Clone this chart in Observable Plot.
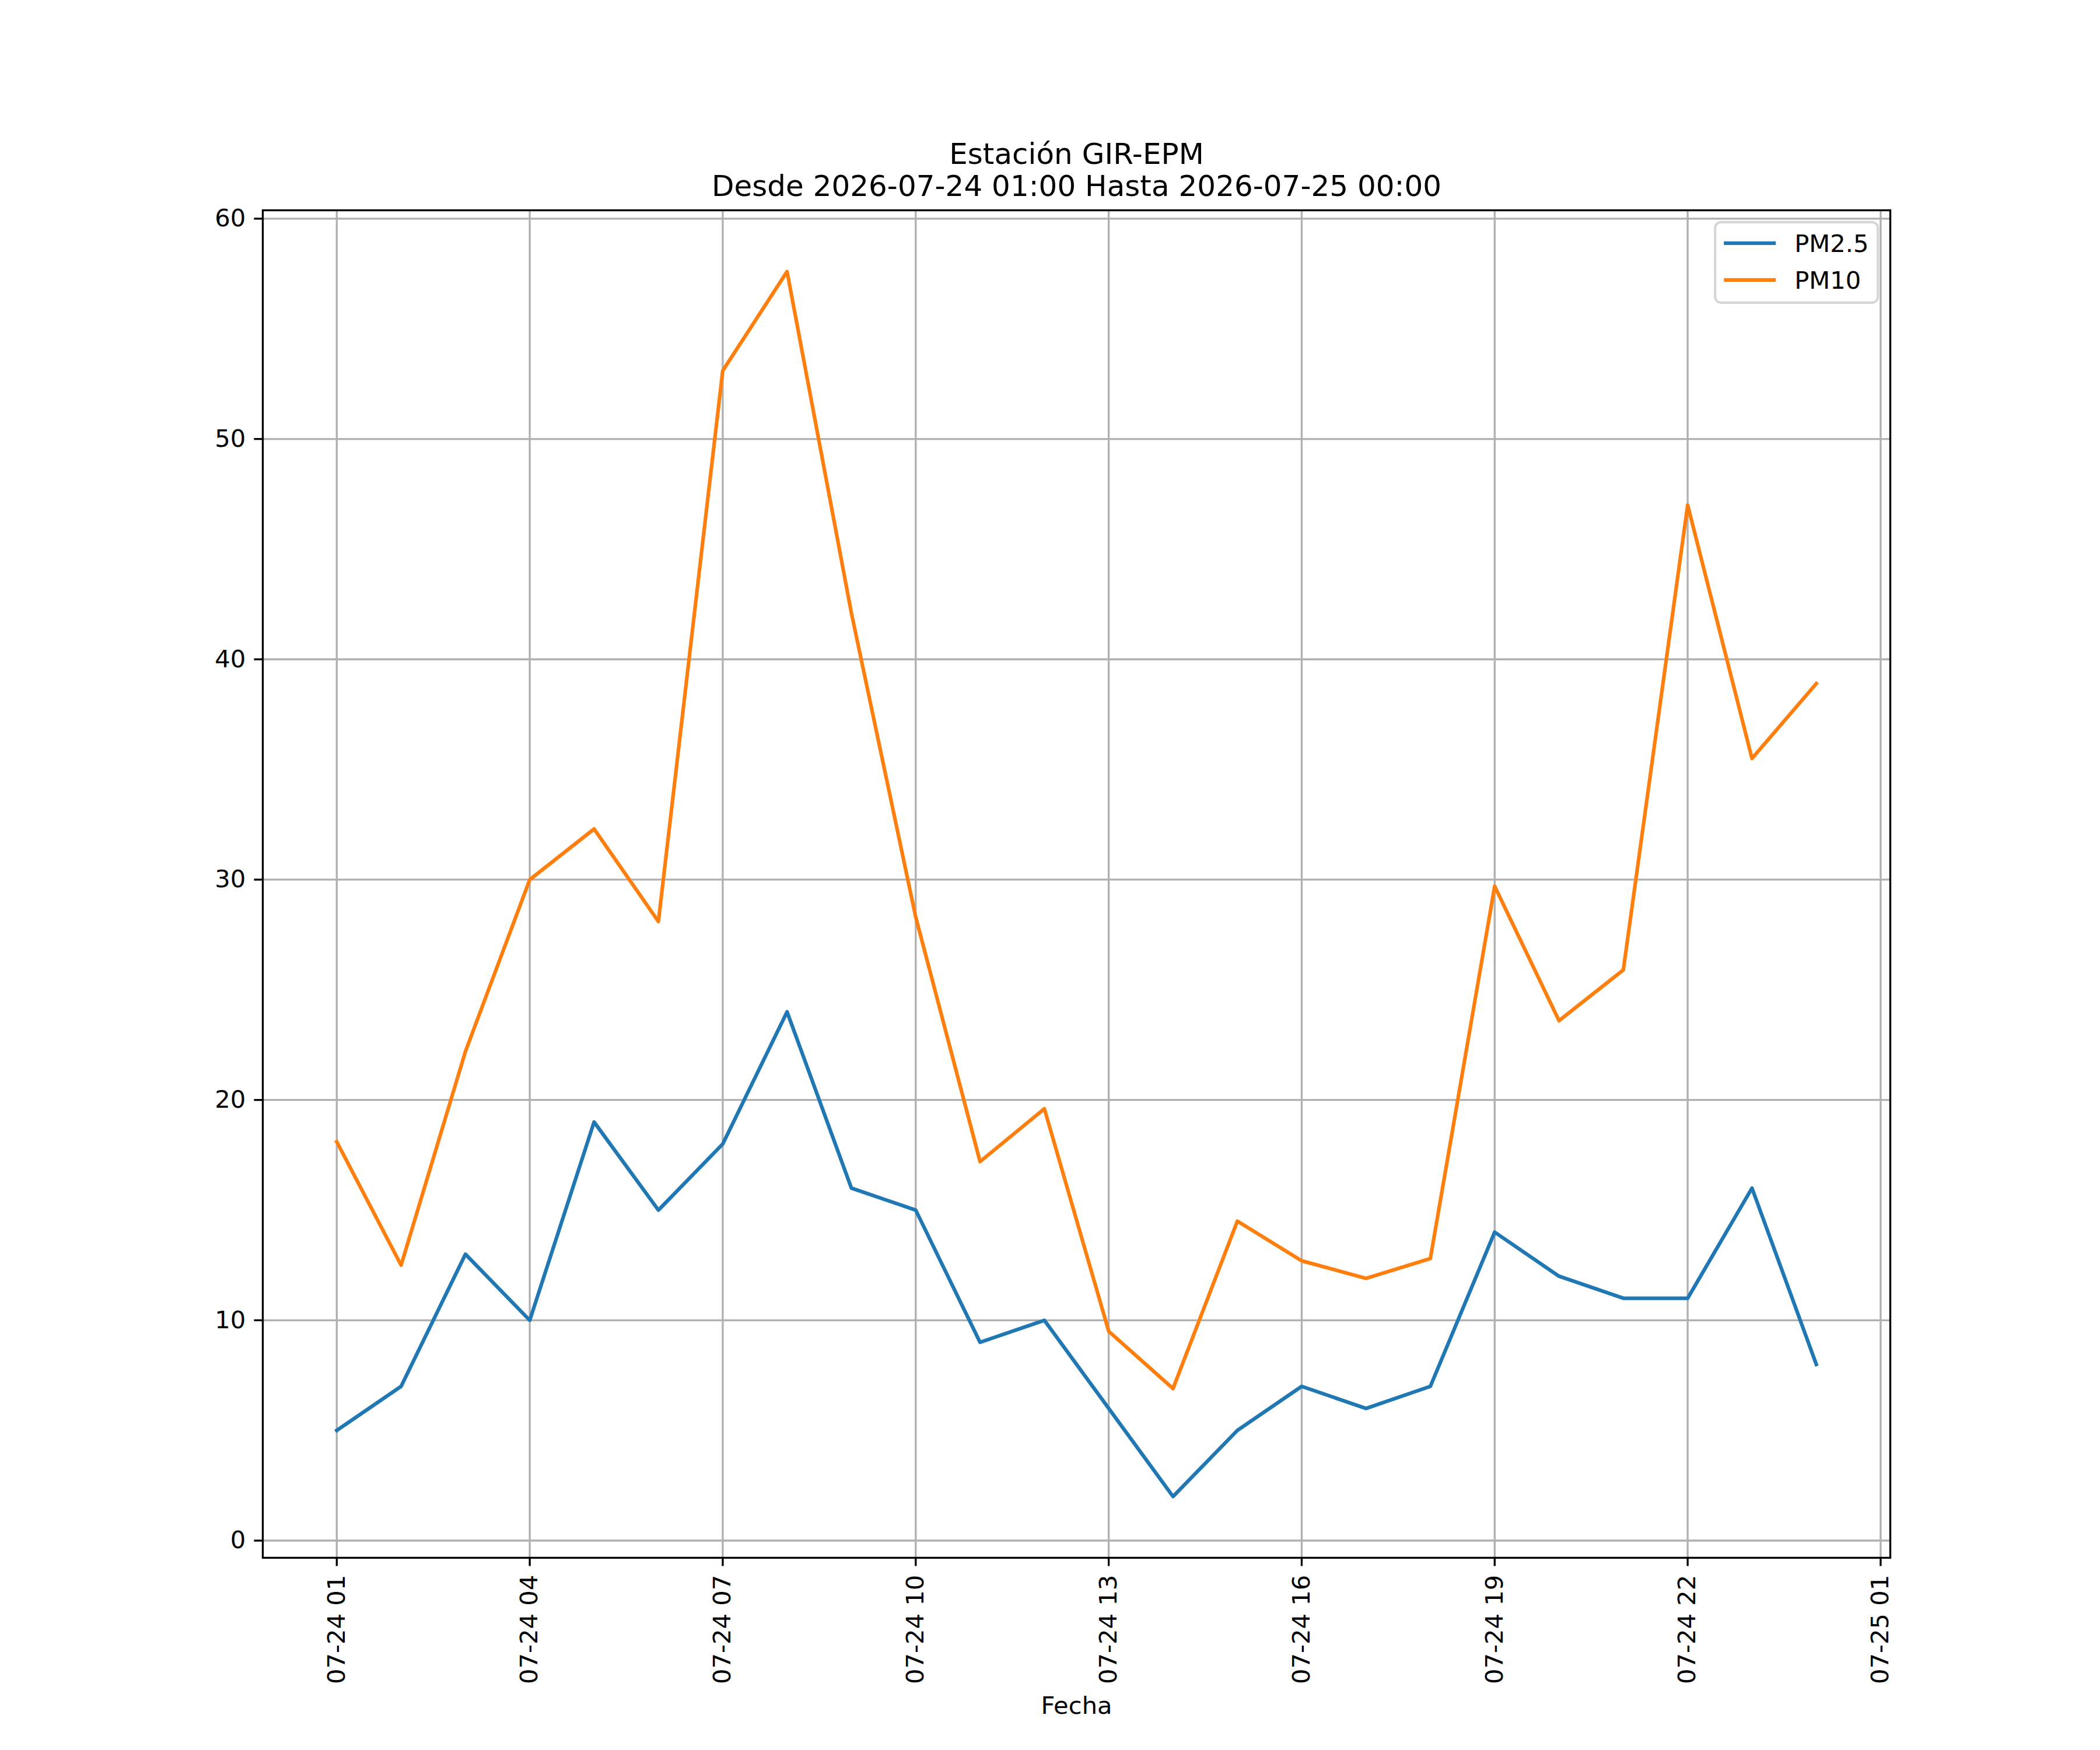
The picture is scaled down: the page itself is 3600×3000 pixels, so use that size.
<!DOCTYPE html>
<html><head><meta charset="utf-8">
<script src="https://cdn.jsdelivr.net/npm/d3@7"></script>
<script src="https://cdn.jsdelivr.net/npm/@observablehq/plot@0.6"></script>
<style>html,body{margin:0;padding:0;background:#fff} svg{display:block}</style>
</head><body><div id="chart"></div>
<script>
// ---- data ----
const hours = [1,2,3,4,5,6,7,8,9,10,11,12,13,14,15,16,17,18,19,20,21,22,23,24]; // hours after 2026-07-24 00:00
const pm25 = [5,7,13,10,19,15,18,24,16,15,9,10,6,2,5,7,6,7,14,12,11,11,16,8];
const pm10 = [18.1,12.5,22.2,30.0,32.3,28.1,53.1,57.6,42.1,28.3,17.2,19.6,9.5,6.9,14.5,12.7,11.9,12.8,29.7,23.6,25.9,47.0,35.5,38.9];
const seriesNames = ["PM2.5","PM10"];
const seriesColors = ["#1f77b4","#ff7f0e"];
const xTickHours = [1,4,7,10,13,16,19,22,25];
const yTicks = [0,10,20,30,40,50,60];
const titleLines = ["Estación GIR-EPM","Desde 2026-07-24 01:00 Hasta 2026-07-25 00:00"];
const xLabel = "Fecha";

// ---- build ----
const toDate = h => new Date(2026, 6, 24, h);
const dates = hours.map(toDate);
const seriesValues = [pm25, pm10];
const rows = seriesNames.map((name, s) => hours.map((h, i) => ({series: name, date: dates[i], value: seriesValues[s][i]})));
const xTicks = xTickHours.map(toDate);

const pt = 300 / 72;
const fs = 10 * pt;
const t0 = +dates[0], t1 = +dates[dates.length - 1];
const xDomain = [new Date(t0 - 0.05 * (t1 - t0)), new Date(t1 + 0.05 * (t1 - t0))];
const allV = pm25.concat(pm10);
const vmin = d3.min(allV), vmax = d3.max(allV);
const yDomain = [vmin - 0.05 * (vmax - vmin), vmax + 0.05 * (vmax - vmin)];

const W = 3600, H = 3000, mL = 450, mR = 360, mT = 360, mB = 330;

const chart = Plot.plot({
  width: W, height: H,
  marginLeft: mL, marginRight: mR, marginTop: mT, marginBottom: mB,
  style: {fontFamily: "DejaVu Sans", fontSize: fs + "px", background: "white", color: "black"},
  x: {type: "time", domain: xDomain},
  y: {domain: yDomain},
  marks: [
    Plot.gridX(xTicks, {stroke: "#b0b0b0", strokeOpacity: 1, strokeWidth: 0.8 * pt}),
    Plot.gridY(yTicks, {stroke: "#b0b0b0", strokeOpacity: 1, strokeWidth: 0.8 * pt}),
    ...rows.map((r, s) => Plot.lineY(r, {x: "date", y: "value", stroke: seriesColors[s], strokeWidth: 1.5 * pt, strokeLinejoin: "round", strokeLinecap: "square"})),
    Plot.frame({stroke: "black", strokeWidth: 0.8 * pt}),
    Plot.axisX(xTicks, {tickRotate: -90, tickFormat: d3.timeFormat("%m-%d %H"), tickSize: 3.5 * pt, tickPadding: 3.5 * pt, strokeWidth: 0.8 * pt, label: null}),
    Plot.axisY(yTicks, {tickSize: 3.5 * pt, tickPadding: 3.5 * pt, strokeWidth: 0.8 * pt, label: null}),
    Plot.text([titleLines.join("\n")], {frameAnchor: "top", lineAnchor: "bottom", dy: -25, fontSize: 12 * pt, lineHeight: 1.1}),
    Plot.text([xLabel], {frameAnchor: "bottom", lineAnchor: "bottom", dy: 267, fontSize: fs})
  ]
});

// ---- legend (upper right) ----
const svg = d3.select(chart);
const lx = W - mR - 20.8 - 279, ly = mT + 20.8;
const lg = svg.append("g").attr("font-family", "DejaVu Sans").attr("font-size", fs).attr("text-anchor", "start");
lg.append("rect").attr("x", lx).attr("y", ly).attr("width", 279).attr("height", 138)
  .attr("rx", 10).attr("fill", "white").attr("fill-opacity", 0.8)
  .attr("stroke", "#d6d6d6").attr("stroke-width", 1 * pt);
seriesNames.forEach((name, s) => {
  const yy = ly + 36 + s * 63;
  lg.append("line").attr("x1", lx + 15).attr("x2", lx + 104).attr("y1", yy).attr("y2", yy)
    .attr("stroke", seriesColors[s]).attr("stroke-width", 1.5 * pt);
  lg.append("text").attr("x", lx + 136).attr("y", yy + 15).attr("text-anchor", "start").text(name);
});

document.getElementById("chart").appendChild(chart);
</script>
</body></html>
